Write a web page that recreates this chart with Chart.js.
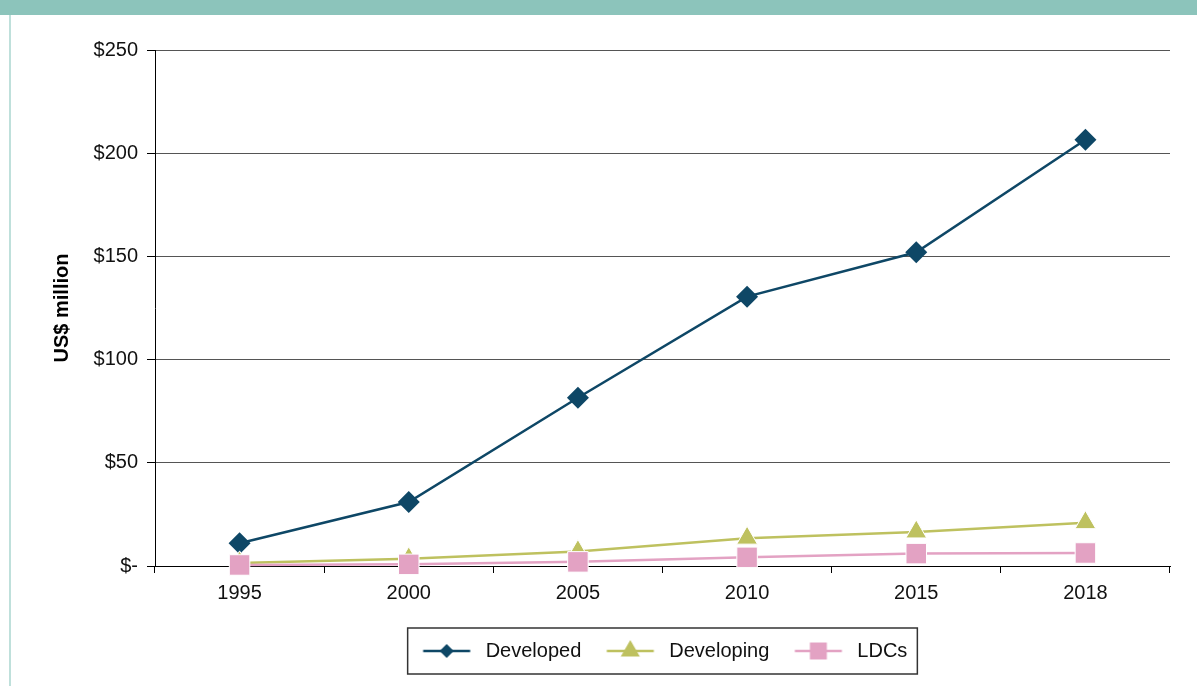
<!DOCTYPE html>
<html>
<head>
<meta charset="utf-8">
<script src="https://cdn.jsdelivr.net/npm/chart.js@4/dist/chart.umd.min.js"></script>
<style>
	html, body { margin: 0; padding: 0; background: #fff; }
	body { width: 1197px; height: 686px; position: relative; overflow: hidden; }
	#band { position: absolute; left: 0; top: 0; width: 1197px; height: 15px; background: #8cc4bb; }
	#edge { position: absolute; left: 9px; top: 15px; width: 2px; height: 671px; background: #bfe0db; }
	#wrap { position: absolute; left: 0; top: 0; width: 1197px; height: 686px; }
</style>
</head>
<body>
<div id="band"></div>
<div id="edge"></div>
<div id="wrap"><canvas id="chart"></canvas></div>
<script>
(function() {
	"use strict";

	var years = ["1995", "2000", "2005", "2010", "2015", "2018"];
	var developed = [11, 31, 81.5, 130.5, 152, 206.5];
	var developing = [1.5, 3.5, 7, 13.5, 16.5, 21];
	var ldcs = [0.5, 0.8, 2, 4.2, 6, 6.3];
	var yTickLabels = ["$-", "$50", "$100", "$150", "$200", "$250"];

	var FONT = "'Liberation Sans', Arial, Helvetica, sans-serif";
	var BLUE = "#0e4766";
	var OLIVE = "#bec15f";
	var PINK = "#e3a2c3";

	// little line + marker pictures for the legend
	function legendIcon(color, style, radius) {
		var c = document.createElement("canvas");
		c.width = 58;
		c.height = 24;
		var g = c.getContext("2d");
		g.strokeStyle = color;
		g.lineWidth = 2.5;
		g.beginPath();
		g.moveTo(5.5, 12);
		g.lineTo(52.5, 12);
		g.stroke();
		g.fillStyle = color;
		g.strokeStyle = color;
		Chart.helpers.drawPoint(g, { pointStyle: style, radius: radius, borderWidth: 0, rotation: 0 }, 29, 12);
		return c;
	}

	var icons = [
		legendIcon(BLUE, "rectRot", 7),
		legendIcon(OLIVE, "triangle", 11),
		legendIcon(PINK, "rect", 12)
	];

	var legendFrame = {
		id: "legendFrame",
		afterDraw: function(chart) {
			var boxes = chart.legend && chart.legend.legendHitBoxes;
			if (!boxes || !boxes.length) return;
			var first = boxes[0], last = boxes[boxes.length - 1];
			var cy = first.top + first.height / 2;
			var g = chart.ctx;
			g.save();
			g.strokeStyle = "#333";
			g.lineWidth = 1.5;
			g.strokeRect(first.left - 10, cy - 23, (last.left + last.width) - first.left + 20, 46);
			g.restore();
		}
	};

	document.addEventListener("DOMContentLoaded", function() {
		var ctx = document.getElementById("chart").getContext("2d");

		new Chart(ctx, {
			type: "line",
			data: {
				labels: years,
				datasets: [{
					label: "Developed",
					data: developed,
					borderColor: BLUE,
					backgroundColor: BLUE,
					borderWidth: 2.5,
					pointStyle: "rectRot",
					pointRadius: 11,
					pointBorderWidth: 0,
					clip: false,
					order: 2
				}, {
					label: "Developing",
					data: developing,
					borderColor: OLIVE,
					backgroundColor: OLIVE,
					borderWidth: 2.5,
					pointStyle: "triangle",
					pointRadius: 12,
					pointBorderColor: "#fff",
					pointBorderWidth: 1,
					clip: false,
					order: 1
				}, {
					label: "LDCs",
					data: ldcs,
					borderColor: PINK,
					backgroundColor: PINK,
					borderWidth: 2.5,
					pointStyle: "rect",
					pointRadius: 14.5,
					pointBorderColor: "#fff",
					pointBorderWidth: 1,
					clip: false,
					order: 0
				}]
			},
			options: {
				responsive: true,
				maintainAspectRatio: false,
				animation: false,
				layout: { padding: { left: 12, right: 27, top: 50, bottom: 15 } },
				scales: {
					x: {
						offset: true,
						afterFit: function(scale) { scale.height = 55; },
						grid: { offset: true, drawOnChartArea: false, color: "#000", tickLength: 7 },
						border: { color: "#000", width: 1 },
						ticks: { color: "#111", padding: 8, font: { family: FONT, size: 20 } }
					},
					y: {
						min: 0,
						max: 250,
						afterFit: function(scale) { scale.width = 143; },
						ticks: {
							stepSize: 50,
							color: "#111",
							padding: 9,
							font: { family: FONT, size: 20 },
							callback: function(v, i) { return yTickLabels[i]; }
						},
						grid: { color: "#555", tickColor: "#000", tickLength: 8 },
						border: { color: "#000", width: 1 },
						title: {
							display: true,
							text: "US$ million",
							color: "#000",
							padding: { top: 38, bottom: 0 },
							font: { family: FONT, size: 20, weight: "bold" }
						}
					}
				},
				plugins: {
					tooltip: { enabled: false },
					legend: {
						position: "bottom",
						fullSize: false,
						labels: {
							usePointStyle: true,
							pointStyleWidth: 58,
							padding: 20,
							color: "#111",
							font: { family: FONT, size: 20 },
							generateLabels: function(chart) {
								return chart.data.datasets.map(function(ds, i) {
									return {
										text: ds.label,
										pointStyle: icons[i],
										fillStyle: ds.borderColor,
										strokeStyle: ds.borderColor,
										lineWidth: 0,
										hidden: false,
										datasetIndex: i,
										fontColor: "#111"
									};
								});
							}
						}
					}
				}
			},
			plugins: [legendFrame]
		});
	});
}) ();
</script>
</body>
</html>
